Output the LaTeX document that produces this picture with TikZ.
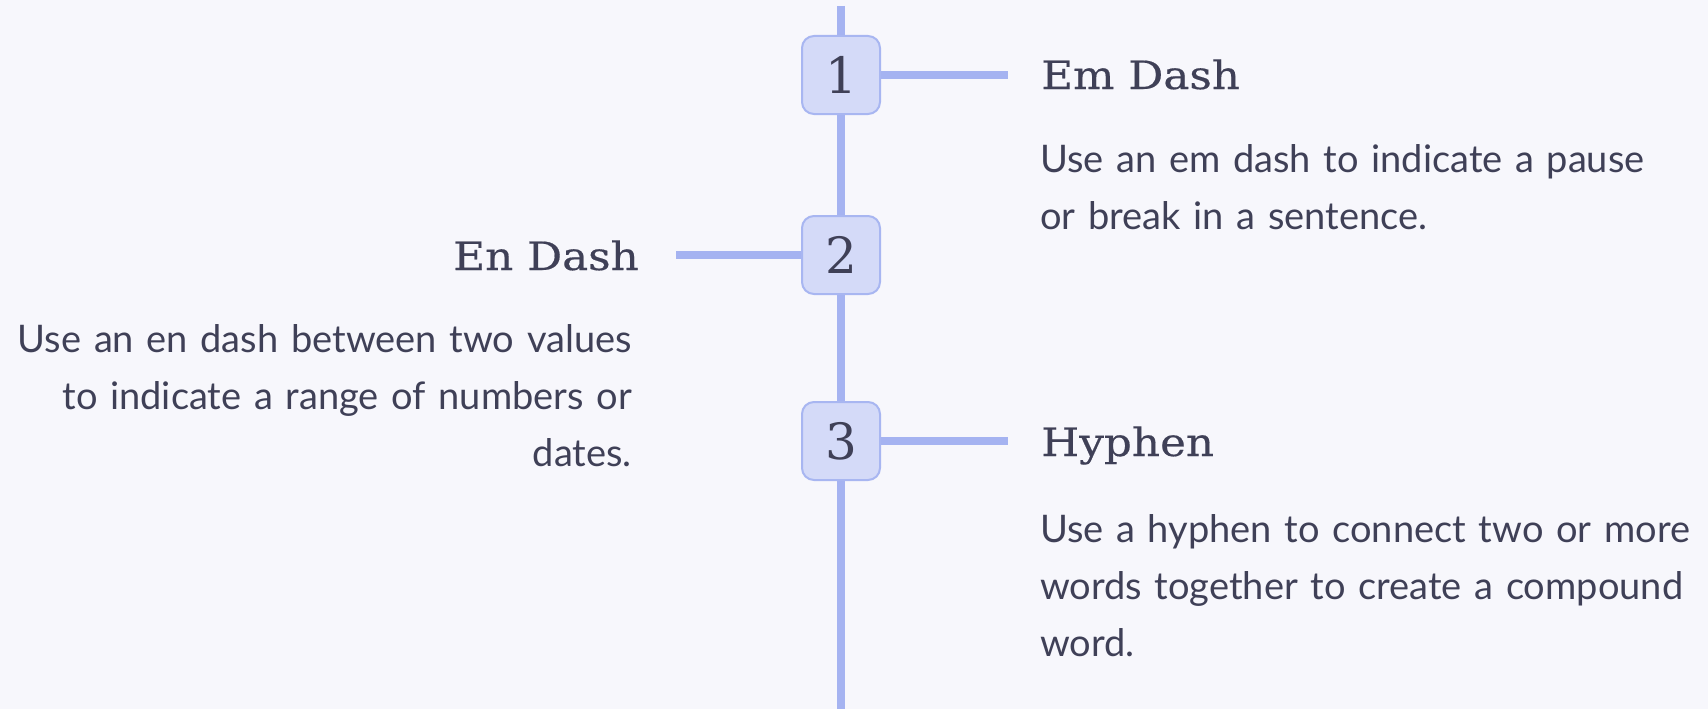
\documentclass[tikz,border=0pt]{standalone}
\usepackage{fontspec}
\newfontfamily\titlefont[FakeStretch=1.12,FakeBold=0.4]{DejaVu Serif}
\newfontfamily\numfont{DejaVu Serif}
\newfontfamily\bodyfont{Lato}
\definecolor{bgc}{HTML}{F7F7FC}
\definecolor{linec}{HTML}{A5B3F1}
\definecolor{boxfill}{HTML}{D4DAF8}
\definecolor{boxdraw}{HTML}{A8B6F1}
\definecolor{txt}{HTML}{3F4057}
\tikzset{
  every picture/.style={x=1pt,y=-1pt},
  stepbox/.style={draw=boxdraw, line width=2pt, fill=boxfill, rounded corners=12pt,
    minimum width=78pt, minimum height=78pt, inner sep=0pt, text=txt,
    font=\numfont\fontsize{50}{60}\selectfont},
  conn/.style={draw=linec, line width=7.5pt},
  titletext/.style={inner sep=0pt, text=txt, font=\titlefont\fontsize{39}{47}\selectfont},
  bodytext/.style={inner sep=0pt, text=txt, font=\bodyfont\fontsize{38}{57}\selectfont}
}
\begin{document}
\begin{tikzpicture}
\useasboundingbox[fill=bgc] (0,0) rectangle (1708,709);
\coordinate (top) at (841,6);
\coordinate (bottom) at (841,709);
\node[stepbox] (b1) at (841,75) {1};
\node[stepbox] (b2) at (841,255) {2};
\node[stepbox] (b3) at (841,441) {3};
\draw[conn] (top) -- (b1.north);
\draw[conn] (b1.south) -- (b2.north);
\draw[conn] (b2.south) -- (b3.north);
\draw[conn] (b3.south) -- (bottom);
\coordinate (c1) at (1008,75);
\coordinate (c2) at (676,255);
\coordinate (c3) at (1008,441);
\draw[conn] (b1.east) -- (c1);
\draw[conn] (c2) -- (b2.west);
\draw[conn] (b3.east) -- (c3);
\node[titletext, anchor=base west] (t1) at (1041,89) {Em Dash};
\node[titletext, anchor=base east] (t2) at (639,270) {En Dash};
\node[titletext, anchor=base west] (t3) at (1041,456) {Hyphen};
\node[bodytext, anchor=base west, text width=700pt, align=left] (d1) at (1040,172)
  {Use an em dash to indicate a pause\\or break in a sentence.};
\node[bodytext, anchor=base east, text width=640pt, align=right] (d2) at (632,352)
  {Use an en dash between two values\\to indicate a range of numbers or\\dates.};
\node[bodytext, anchor=base west, text width=700pt, align=left] (d3) at (1040,542)
  {Use a hyphen to connect two or more\\words together to create a compound\\word.};
\end{tikzpicture}
\end{document}
